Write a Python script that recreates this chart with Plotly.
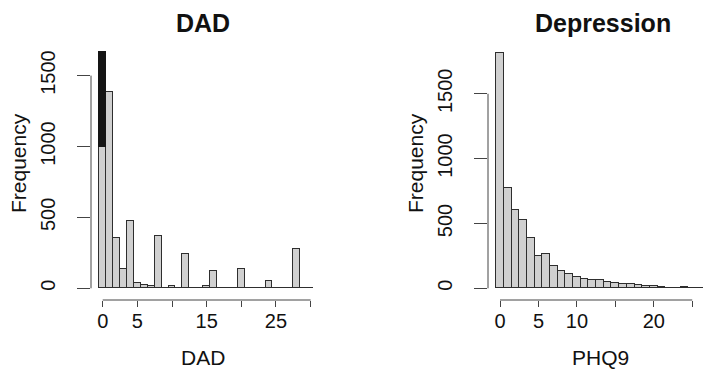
import plotly.graph_objects as go

# DAD score histogram (unit bins centred on 0..30)
dad_scores = list(range(0, 31))
dad_counts = [1000, 1382, 353, 136, 476, 35, 26, 16, 371, 2, 14, 2, 244, 2, 2,
              14, 124, 3, 3, 0, 139, 3, 0, 0, 51, 3, 0, 0, 275, 0, 3]
# part of the zero bin that sits above 1000 (drawn dark)
dad_zero_extra = 668

# PHQ9 score histogram (unit bins centred on 0..26)
phq9_scores = list(range(0, 27))
phq9_counts = [1812, 774, 602, 525, 389, 249, 264, 174, 136, 108, 85, 74, 66, 64,
               46, 44, 31, 31, 28, 18, 16, 10, 2, 2, 7, 4, 2]

freq_ticks = [0, 500, 1000, 1500]
dad_ticks = [0, 5, 10, 15, 20, 25, 30]
dad_tick_text = ["0", "5", "", "15", "", "25", ""]
phq9_ticks = [0, 5, 10, 15, 20, 25]
phq9_tick_text = ["0", "5", "10", "", "20", ""]

W, H = 704, 369
FONT = "Liberation Sans, Arial, Helvetica, sans-serif"
BAR_FILL = "#d0d0d0"
BAR_EDGE = "#2e2e2e"
AXIS_COL = "#444444"
TEXT_COL = "#111111"

fig = go.Figure()

fig.add_trace(go.Bar(x=dad_scores, y=dad_counts, width=1,
                     marker=dict(color=BAR_FILL, line=dict(color=BAR_EDGE, width=1.2)),
                     xaxis="x", yaxis="y"))
fig.add_trace(go.Bar(x=[0], y=[dad_zero_extra], width=1,
                     marker=dict(color="#151515", line=dict(color="#151515", width=1.2)),
                     xaxis="x", yaxis="y"))
fig.add_trace(go.Bar(x=phq9_scores, y=phq9_counts, width=1,
                     marker=dict(color=BAR_FILL, line=dict(color=BAR_EDGE, width=1.2)),
                     xaxis="x2", yaxis="y2"))

ydom = [1 - 300 / H, 1 - 45 / H]
tickfont = dict(family=FONT, size=20, color=TEXT_COL)

common_x = dict(ticks="outside", ticklen=6, tickcolor=AXIS_COL, tickwidth=1,
                showline=False, showgrid=False, zeroline=False, automargin=False,
                tickfont=tickfont, tickangle=0, ticklabelstandoff=-3)
common_y = dict(ticks="outside", ticklen=13, tickcolor=AXIS_COL, tickwidth=1,
                showline=False, showgrid=False, zeroline=False, automargin=False,
                tickfont=tickfont, tickangle=-90, tickvals=freq_ticks,
                ticktext=[str(v) for v in freq_ticks], ticklabelstandoff=14)

fig.update_layout(
    width=W, height=H,
    margin=dict(l=0, r=0, t=0, b=0),
    paper_bgcolor="white", plot_bgcolor="white",
    showlegend=False, barmode="stack", bargap=0,
    xaxis=dict(domain=[91 / W, 321 / W], range=[-1.69, 31.5], anchor="y",
               tickvals=dad_ticks, ticktext=dad_tick_text, **common_x),
    yaxis=dict(domain=ydom, range=[-82.5, 1715.8], anchor="x", **common_y),
    xaxis2=dict(domain=[488 / W, 1.0], range=[-1.56, 26.53], anchor="y2",
                tickvals=phq9_ticks, ticktext=phq9_tick_text, **common_x),
    yaxis2=dict(domain=ydom, range=[-90.2, 1875.9], anchor="x2", **common_y),
)

# detached R-style axis lines spanning only the tick range
line_style = dict(color=AXIS_COL, width=1)
fig.add_shape(type="line", xref="x", yref="y domain", x0=0, x1=30, y0=0, y1=0, line=line_style)
fig.add_shape(type="line", xref="x domain", yref="y", x0=0, x1=0, y0=0, y1=1500, line=line_style)
fig.add_shape(type="line", xref="x2", yref="y2 domain", x0=0, x1=25, y0=0, y1=0, line=line_style)
fig.add_shape(type="line", xref="x2 domain", yref="y2", x0=0, x1=0, y0=0, y1=1500, line=line_style)


def label(text, px, py, size=21, bold=False, angle=0):
    fig.add_annotation(
        text=f"<b>{text}</b>" if bold else text,
        x=px / W, y=1 - py / H, xref="paper", yref="paper",
        xanchor="center", yanchor="middle", showarrow=False, textangle=angle,
        font=dict(family=FONT, size=size, color=TEXT_COL),
    )


label("DAD", 203, 23, size=25, bold=True)
label("Depression", 603, 23, size=25, bold=True)
label("DAD", 203, 357)
label("PHQ9", 600, 357)
label("Frequency", 18, 163, angle=-90)
label("Frequency", 415, 163, angle=-90)

fig.write_html("out.html")
